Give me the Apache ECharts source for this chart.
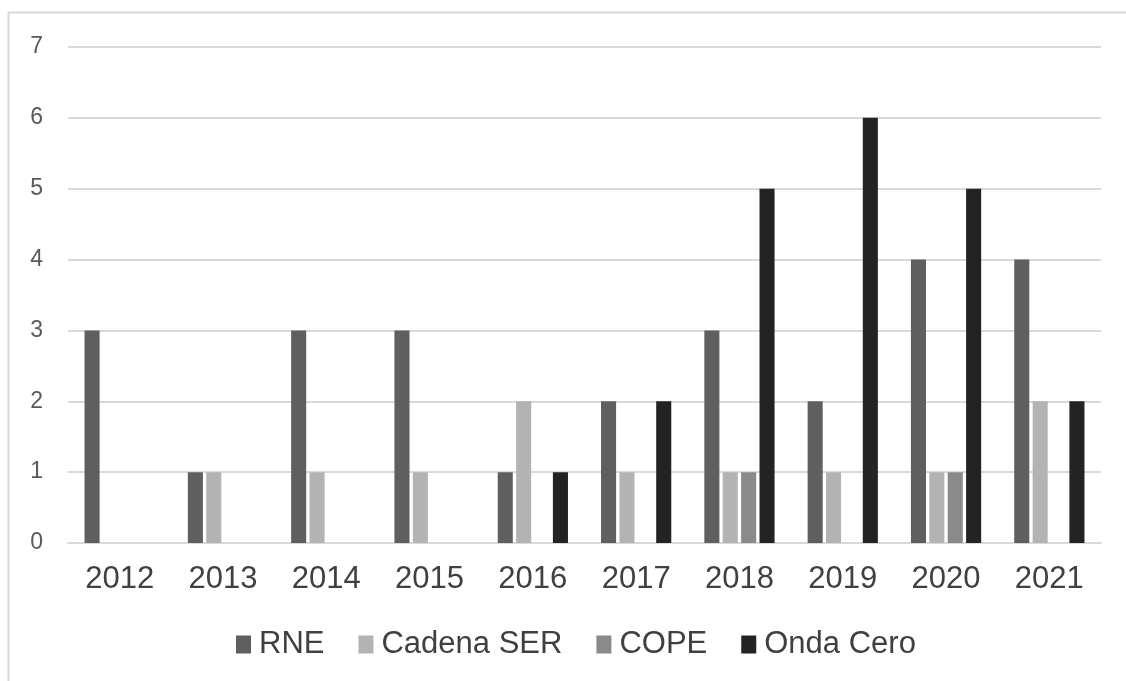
<!DOCTYPE html>
<html>
<head>
<meta charset="utf-8">
<script src="https://cdn.jsdelivr.net/npm/echarts@6/dist/echarts.min.js"></script>
<style>
  html, body { margin: 0; padding: 0; background: #fff; }
  #chart { width: 1126px; height: 681px; }
</style>
</head>
<body>
<div id="chart"></div>
<script>
// 年份
const years = ['2012', '2013', '2014', '2015', '2016', '2017', '2018', '2019', '2020', '2021']
// 各电台数据
const rne = [3, 1, 3, 3, 1, 2, 3, 2, 4, 4]
const cadenaSer = [0, 1, 1, 1, 2, 1, 1, 1, 1, 2]
const cope = [0, 0, 0, 0, 0, 0, 1, 0, 1, 0]
const ondaCero = [0, 0, 0, 0, 1, 2, 5, 6, 5, 2]
const seriesNames = ['RNE', 'Cadena SER', 'COPE', 'Onda Cero']
const yTicks = { min: 0, max: 7, interval: 1 }

;(function () {
  let myChart = echarts.init(document.getElementById('chart'))
  let font = "'Liberation Sans', Arial, sans-serif"
  let myColor = ['#5f5f5f', '#b3b3b3', '#8a8a8a', '#232323']
  let values = [rne, cadenaSer, cope, ondaCero]

  let option = {
    color: myColor,
    animation: false,
    // 外框
    graphic: [{
      type: 'rect',
      shape: { x: 8.5, y: 12.5, width: 1200, height: 800 },
      style: { fill: 'none', stroke: '#d9d9d9', lineWidth: 2 },
      silent: true
    }],
    grid: {
      left: 68,
      right: 25,
      top: 47,
      bottom: 138,
      containLabel: false
    },
    legend: {
      data: seriesNames,
      top: 629,
      left: 236,
      padding: 0,
      itemWidth: 15,
      itemHeight: 18,
      itemGap: 34,
      icon: 'rect',
      textStyle: {
        fontFamily: font,
        fontSize: 31,
        color: '#404040',
        padding: [0, 0, 0, 3]
      }
    },
    xAxis: {
      type: 'category',
      data: years,
      axisTick: { show: false },
      axisLine: {
        lineStyle: { color: '#d9d9d9', width: 2 }
      },
      axisLabel: {
        fontFamily: font,
        fontSize: 31,
        color: '#404040',
        margin: 21
      }
    },
    yAxis: {
      type: 'value',
      min: yTicks.min,
      max: yTicks.max,
      interval: yTicks.interval,
      axisLine: { show: false },
      axisTick: { show: false },
      axisLabel: {
        fontFamily: font,
        fontSize: 23,
        color: '#595959',
        margin: 25
      },
      splitLine: {
        lineStyle: { color: '#d9d9d9', width: 2 }
      }
    },
    series: seriesNames.map(function (name, i) {
      return {
        name: name,
        type: 'bar',
        data: values[i],
        barCategoryGap: '32%',
        barGap: '22%'
      }
    })
  }

  myChart.setOption(option)

  window.addEventListener('resize', function () {
    myChart.resize()
  })
})();
</script>
</body>
</html>
